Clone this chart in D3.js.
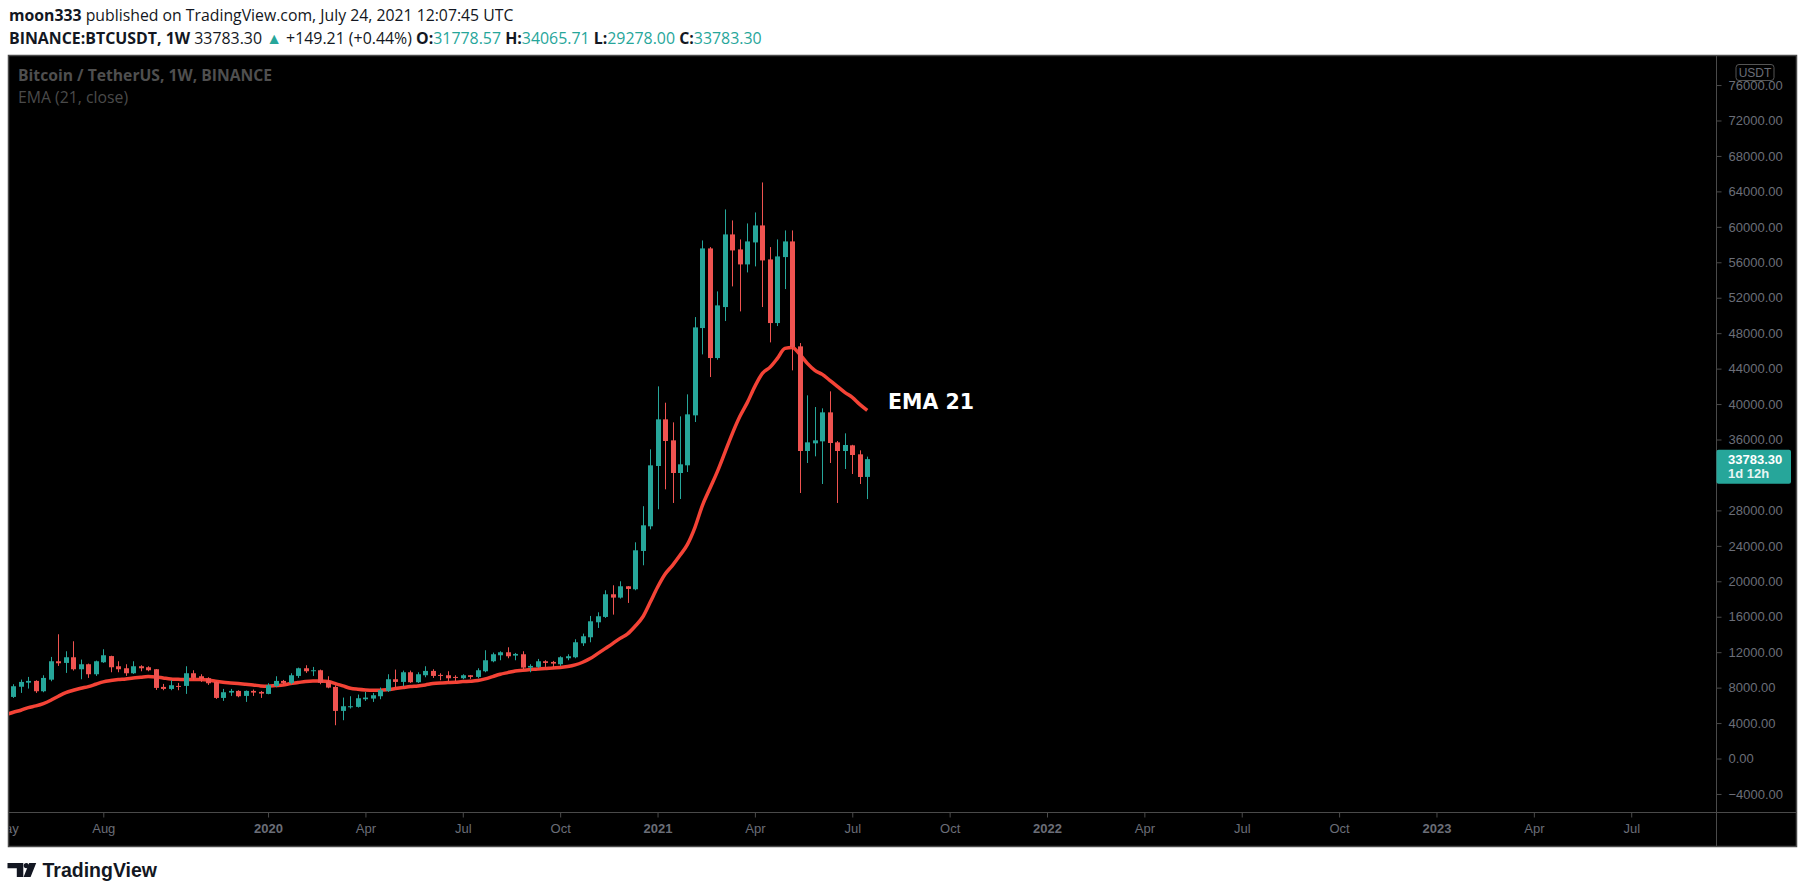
<!DOCTYPE html>
<html>
<meta charset="utf-8">
<head>
<script src="https://d3js.org/d3.v7.min.js"></script>
<style>
  body { margin: 0; background: #fff; }
  svg text { font-family: "Liberation Sans", Arial, sans-serif; }
  svg text.ui { font-family: "Open Sans", "Liberation Sans", sans-serif; }
</style>
</head>
<body>
<div id="chart"></div>
<script>

// weekly candles, first bar is the week of 2019-05-13
var firstWeek = new Date(Date.UTC(2019, 4, 13));
var opens = [6953, 8100, 8560, 8758, 7592, 8900, 10976, 10788, 11427, 10074,
  10638, 9510, 10863, 11560, 10412, 10186, 9623, 10412, 10299, 10074,
  8081, 7855, 8194, 8194, 9623, 9284, 9059, 8645, 6840, 7442,
  7630, 7066, 7630, 7517, 7291, 8194, 8758, 8532, 9322, 10186,
  9848, 9961, 8700, 8081, 5374, 5790, 5825, 6690, 6766, 7028,
  7630, 8946, 8645, 9735, 8608, 9397, 9886, 9435, 9397, 9209,
  9059, 9397, 9209, 9848, 10976, 11653, 11991, 11615, 11766, 10261,
  10337, 10976, 10900, 10638, 11315, 11427, 13006, 13683, 15375, 15978,
  18535, 18159, 19437, 19099, 23423, 26205, 33012, 38275, 35906, 32221,
  33086, 38726, 48577, 57564, 45193, 50946, 59143, 57451, 55759, 58241,
  60158, 56323, 49142, 56586, 58354, 46510, 34703, 35568, 35793, 39064,
  35680, 34703, 35342, 34327, 31778.57];
var highs = [8382, 8908, 9209, 8833, 9397, 11465, 14022, 12104, 13232, 11164,
  10713, 11051, 12330, 11600, 10976, 10638, 10976, 10525, 10412, 10100,
  8420, 8833, 8532, 10412, 9961, 9510, 9171, 8720, 7855, 7855,
  7705, 7680, 7780, 7630, 8495, 9284, 8870, 9623, 10261, 10525,
  10337, 10036, 9284, 8269, 6878, 7028, 7217, 7517, 7404, 8006,
  9510, 10036, 9923, 9923, 9735, 10412, 10074, 9623, 9848, 9397,
  9510, 9420, 10186, 12217, 11954, 12104, 12555, 11916, 12104, 10638,
  11239, 11089, 11014, 11540, 11766, 13458, 14097, 16090, 16503, 18986,
  19550, 20000, 19460, 24400, 28475, 34891, 41997, 40155, 37936, 38613,
  41095, 49817, 58466, 57714, 52713, 61963, 60722, 58579, 60384, 61625,
  65008, 57714, 58579, 59594, 59594, 46885, 40982, 39666, 39515, 41434,
  35831, 36696, 35400, 34778, 34065.71];
var lows = [6840, 7404, 7893, 7404, 7480, 8720, 10450, 9660, 9923, 8946,
  9096, 9322, 10788, 9735, 9735, 9322, 9547, 9848, 9848, 7743,
  7705, 7705, 7705, 7292, 8870, 8645, 8306, 6727, 6502, 7066,
  6915, 6389, 7066, 6840, 7250, 8044, 8382, 8382, 9096, 9660,
  9322, 8382, 7930, 3757, 4321, 5640, 5750, 6502, 6389, 6690,
  7517, 8044, 8156, 8532, 8532, 9171, 9096, 8833, 8720, 8720,
  8946, 8984, 9059, 9735, 10863, 11089, 11315, 11089, 10074, 9735,
  10224, 10337, 10337, 10450, 11089, 11315, 12706, 13119, 14736, 15866,
  16240, 18046, 17558, 18986, 21806, 25867, 28123, 30379, 28837, 29288,
  32334, 37973, 45606, 43050, 45005, 49367, 53277, 50457, 54856, 55534,
  50946, 46960, 48803, 52977, 43802, 29965, 33349, 34101, 30980, 33349,
  28837, 32672, 32108, 30980, 29278.00];
var closes = [8156, 8645, 8758, 7592, 9096, 10976, 10751, 11427, 10074, 10638,
  9510, 10976, 11653, 10299, 10074, 9623, 10412, 10186, 9961, 7968,
  7855, 8269, 8100, 9623, 9096, 8984, 8494, 6840, 7480, 7630,
  7028, 7630, 7442, 7329, 8269, 8758, 8532, 9397, 10186, 9848,
  9961, 8550, 8006, 5374, 5900, 5900, 6803, 6878, 7141, 7705,
  8946, 8645, 9735, 8608, 9510, 9886, 9322, 9322, 9059, 9096,
  9397, 9209, 9961, 11089, 11766, 11991, 11540, 11803, 10261, 10450,
  10976, 10788, 10713, 11427, 11540, 13119, 13796, 15488, 16052, 18535,
  18159, 19437, 19137, 23498, 26318, 33086, 38275, 35831, 32221, 33199,
  38839, 48652, 57564, 45193, 51134, 59143, 57338, 55759, 58354, 60158,
  56210, 49142, 56661, 58354, 46434, 34703, 35680, 35906, 39064, 35605,
  34703, 35380, 34252, 31770, 33783.30];

// EMA (21, close), first value is the week of 2019-05-06
var emaFirstWeek = new Date(Date.UTC(2019, 4, 6));
var ema = [4950, 5224, 5449, 5750, 5938, 6201, 6577, 7028, 7442, 7705,
  7930, 8119, 8382, 8645, 8795, 8908, 8984, 9096, 9171, 9247,
  9209, 9096, 8984, 8946, 8908, 8908, 8908, 8870, 8720, 8607,
  8532, 8457, 8382, 8307, 8194, 8156, 8231, 8307, 8457, 8570,
  8700, 8758, 8758, 8682, 8457, 8194, 7930, 7818, 7743, 7705,
  7705, 7780, 7893, 8006, 8119, 8194, 8307, 8457, 8532, 8570,
  8607, 8682, 8720, 8795, 8984, 9247, 9510, 9698, 9886, 9961,
  10036, 10111, 10149, 10224, 10261, 10374, 10563, 10863, 11277, 11841,
  12405, 12969, 13557, 14064, 14922, 15940, 17600, 19323, 20790, 21805,
  22933, 24174, 26092, 28573, 30491, 32409, 34552, 36695, 38613, 40192,
  41997, 43463, 44140, 45155, 46283, 46396, 45606, 44591, 43801, 43350,
  42673, 41997, 41320, 40756, 39966, 39289];

// 32000 sits under the last-price label, so it is not shown
var priceTicks = [-4000, 0, 4000, 8000, 12000, 16000, 20000, 24000, 28000,
  36000, 40000, 44000, 48000, 52000, 56000, 60000, 64000, 68000, 72000, 76000];
var timeTicks = ["2019-05-06", "2019-08-05", "2020-01-06", "2020-04-06", "2020-07-06",
  "2020-10-05", "2021-01-04", "2021-04-05", "2021-07-05", "2021-10-04", "2022-01-03",
  "2022-04-04", "2022-07-04", "2022-10-03", "2023-01-02", "2023-04-03", "2023-07-03"];
var timeLabels = ["May", "Aug", "2020", "Apr", "Jul", "Oct", "2021", "Apr", "Jul",
  "Oct", "2022", "Apr", "Jul", "Oct", "2023", "Apr", "Jul"];

var lastPrice = 33783.30;

var W = 1805, H = 894;
var frame = {left: 8.5, top: 55.5, right: 1796.5, bottom: 846.5};
var plot = {left: 8.5, top: 55.5, right: 1716.5, bottom: 812.5};
var up = "#26a69a", down = "#ef5350", emaColor = "#f44336";
var axisText = "#6b6e78", lineCol = "#4a4a4a";

var svg = d3.select("#chart").append("svg")
  .attr("width", W).attr("height", H);

// header
var h1 = svg.append("text").attr("class", "ui").attr("x", 9).attr("y", 21)
  .style("font-size", "15.8px").attr("fill", "#131722");
h1.append("tspan").attr("font-weight", "bold").text("moon333");
h1.append("tspan").text(" published on TradingView.com, July 24, 2021 12:07:45 UTC");

var h2 = svg.append("text").attr("class", "ui").attr("x", 9).attr("y", 44)
  .style("font-size", "15.9px").attr("fill", "#131722");
h2.append("tspan").attr("font-weight", "bold").text("BINANCE:BTCUSDT, 1W");
h2.append("tspan").text(" 33783.30 ");
h2.append("tspan").attr("fill", up).text("▲");
h2.append("tspan").text(" +149.21 (+0.44%) ");
[["O:", "31778.57"], ["H:", "34065.71"], ["L:", "29278.00"], ["C:", "33783.30"]].forEach(function(p, i) {
  h2.append("tspan").attr("font-weight", "bold").text((i ? " " : "") + p[0]);
  h2.append("tspan").attr("fill", up).text(p[1]);
});

// black chart box
svg.append("rect")
  .attr("x", frame.left).attr("y", frame.top)
  .attr("width", frame.right - frame.left).attr("height", frame.bottom - frame.top)
  .attr("fill", "#000").attr("stroke", lineCol).attr("stroke-width", 1.5);

// scales
var x = d3.scaleUtc()
  .domain([new Date(Date.UTC(2019, 4, 8, 10)), new Date(Date.UTC(2023, 8, 20, 17))])
  .range([plot.left, plot.right]);
var y = d3.scaleLinear()
  .domain([-6091, 79334])
  .range([plot.bottom, plot.top]);

svg.append("clipPath").attr("id", "plotclip")
  .append("rect").attr("x", plot.left + 0.5).attr("y", plot.top)
  .attr("width", plot.right - plot.left - 0.5).attr("height", plot.bottom - plot.top);
svg.append("clipPath").attr("id", "timeclip")
  .append("rect").attr("x", plot.left + 1).attr("y", plot.bottom)
  .attr("width", plot.right - plot.left - 1).attr("height", frame.bottom - plot.bottom);

var g = svg.append("g").attr("clip-path", "url(#plotclip)");

// EMA line
var emaDates = ema.map(function(d, i) { return d3.utcMonday.offset(emaFirstWeek, i); });
g.append("path")
  .datum(ema)
  .attr("fill", "none")
  .attr("stroke", emaColor)
  .attr("stroke-width", 3.5)
  .attr("stroke-linejoin", "round")
  .attr("d", d3.line()
    .x(function(d, i) { return x(emaDates[i]); })
    .y(function(d) { return y(d); })
    .curve(d3.curveMonotoneX));

// candles
var candles = opens.map(function(o, i) {
  return {date: d3.utcMonday.offset(firstWeek, i), o: o, h: highs[i], l: lows[i], c: closes[i]};
});
var bodyW = 5;
var cg = g.selectAll("g.candle").data(candles).enter().append("g");
cg.append("line")
  .attr("x1", function(d) { return Math.round(x(d.date)) + 0.5; })
  .attr("x2", function(d) { return Math.round(x(d.date)) + 0.5; })
  .attr("y1", function(d) { return y(d.h); })
  .attr("y2", function(d) { return y(d.l); })
  .attr("stroke", function(d) { return d.c >= d.o ? up : down; })
  .attr("stroke-width", 1);
cg.append("rect")
  .attr("x", function(d) { return Math.round(x(d.date)) + 0.5 - bodyW / 2; })
  .attr("width", bodyW)
  .attr("y", function(d) { return y(Math.max(d.o, d.c)); })
  .attr("height", function(d) { return Math.max(1, Math.abs(y(d.o) - y(d.c))); })
  .attr("fill", function(d) { return d.c >= d.o ? up : down; });

// annotation
g.append("text")
  .attr("x", 888).attr("y", 409)
  .attr("fill", "#fff").attr("font-weight", "bold")
  .style("font-size", "20.5px").style("font-family", "DejaVu Sans, sans-serif")
  .text("EMA 21");

// legend
svg.append("text").attr("class", "ui").attr("x", 18).attr("y", 81)
  .attr("fill", "#4f4f4f").attr("font-weight", "bold").style("font-size", "15.7px")
  .text("Bitcoin / TetherUS, 1W, BINANCE");
svg.append("text").attr("class", "ui").attr("x", 18).attr("y", 103)
  .attr("fill", "#4a4a4a").style("font-size", "15.8px")
  .text("EMA (21, close)");

// separators
svg.append("line").attr("x1", plot.right).attr("x2", plot.right)
  .attr("y1", frame.top).attr("y2", frame.bottom).attr("stroke", lineCol);
svg.append("line").attr("x1", frame.left).attr("x2", frame.right)
  .attr("y1", plot.bottom).attr("y2", plot.bottom).attr("stroke", lineCol);

// price axis
var yAxis = svg.append("g")
  .attr("transform", "translate(" + plot.right + ",0)")
  .call(d3.axisRight(y).tickValues(priceTicks).tickSize(5).tickPadding(7)
    .tickFormat(d3.format(".2f")));
yAxis.select(".domain").remove();
yAxis.selectAll(".tick line").attr("stroke", lineCol);
yAxis.selectAll(".tick text").attr("fill", axisText)
  .style("font-size", "13px").style("font-family", "Liberation Sans, Arial, sans-serif");

// time axis (clip lives on an outer group so it is in page coordinates)
var tickDates = timeTicks.map(function(s) { return new Date(s + "T00:00:00Z"); });
var xAxis = svg.append("g")
  .attr("clip-path", "url(#timeclip)")
  .append("g")
  .attr("transform", "translate(0," + plot.bottom + ")")
  .call(d3.axisBottom(x).tickValues(tickDates).tickSize(5).tickPadding(6)
    .tickFormat(function(d, i) { return timeLabels[i]; }));
xAxis.select(".domain").remove();
xAxis.selectAll(".tick line").attr("stroke", lineCol);
xAxis.selectAll(".tick text").attr("fill", axisText)
  .style("font-size", "13px").style("font-family", "Liberation Sans, Arial, sans-serif")
  .attr("font-weight", function(d, i) { return /^\d{4}$/.test(timeLabels[i]) ? "bold" : null; });

// currency badge
svg.append("rect").attr("x", 1736).attr("y", 64.5).attr("width", 38).attr("height", 16)
  .attr("rx", 3).attr("fill", "#000").attr("stroke", "#555");
svg.append("text").attr("x", 1755).attr("y", 77).attr("text-anchor", "middle")
  .attr("fill", axisText).style("font-size", "12px").text("USDT");

// last price label
var ly = y(lastPrice);
svg.append("rect").attr("x", plot.right).attr("y", ly - 9.5)
  .attr("width", 74.5).attr("height", 34).attr("rx", 2).attr("fill", up);
svg.append("text").attr("x", 1728).attr("y", ly + 4.5)
  .attr("fill", "#fff").attr("font-weight", "bold").style("font-size", "13px")
  .text(d3.format(".2f")(lastPrice));
svg.append("text").attr("x", 1728).attr("y", ly + 19)
  .attr("fill", "#e8f5f3").attr("font-weight", "bold").style("font-size", "13px")
  .text("1d 12h");

// footer logo
var logo = svg.append("g").attr("fill", "#131722");
logo.append("path").attr("d", "M7.5,863 H23.3 V877 H16.8 V868.2 H7.5 Z");
logo.append("circle").attr("cx", 26.3).attr("cy", 865.6).attr("r", 2.6);
logo.append("path").attr("d", "M29.2,863 H36.2 L30.6,877 H23.6 Z");
svg.append("text").attr("x", 42.5).attr("y", 877)
  .attr("fill", "#131722").attr("font-weight", "bold").style("font-size", "19.5px")
  .text("TradingView");

</script>
</body>
</html>
